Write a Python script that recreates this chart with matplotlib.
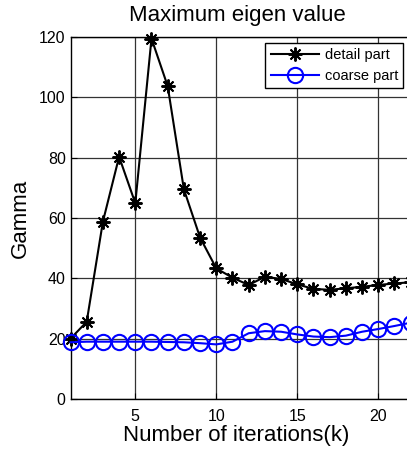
import matplotlib
matplotlib.use("Agg")
import matplotlib.pyplot as plt

plt.rcParams['font.family'] = ['Liberation Sans', 'DejaVu Sans']

iterations = list(range(1, 23))
detail = [20.0, 25.6, 58.8, 80.3, 64.9, 119.5, 103.7, 69.5, 53.5, 43.3, 40.2,
          37.8, 40.5, 39.8, 38.0, 36.5, 36.2, 36.7, 37.2, 37.8, 38.3, 38.7]
coarse = [18.8, 19.0, 19.0, 19.0, 19.0, 19.0, 18.9, 18.8, 18.5, 18.1, 19.0,
          21.8, 22.5, 22.3, 21.4, 20.7, 20.5, 21.0, 22.3, 23.2, 24.2, 25.3]
yticks = [0, 20, 40, 60, 80, 100, 120]
xticks = [5, 10, 15, 20]

fig = plt.figure(figsize=(4.07, 4.5), dpi=100)
ax = fig.add_axes([70.5 / 407, 1 - 399 / 450, 24 * 16.2 / 407, 362 / 450])

ax.plot(iterations, detail, color='black', lw=1.5, marker=(8, 2, 0),
        markersize=10, markeredgewidth=1.4, label='detail part', clip_on=False, zorder=3)
ax.plot(iterations, coarse, color='blue', lw=1.5, marker='o', markerfacecolor='none',
        markersize=11, markeredgewidth=1.5, label='coarse part', clip_on=False, zorder=3)

ax.set_xlim(1, 25)
ax.set_ylim(0, 120)
ax.set_xticks(xticks)
ax.set_yticks(yticks)
ax.tick_params(direction='in', labelsize=11.5, length=4, width=0.8)
ax.tick_params(axis='x', pad=7)
ax.grid(True, color='0.2', lw=0.9)
ax.set_axisbelow(True)
for s in ax.spines.values():
    s.set_linewidth(1.0)

fig.text(237 / 407, 1 - 16 / 450, 'Maximum eigen value', fontsize=16,
         ha='center', va='center')
fig.text(236.5 / 407, 1 - 436 / 450, 'Number of iterations(k)', fontsize=16,
         ha='center', va='center')
ax.set_ylabel('Gamma', fontsize=16, labelpad=6)

leg = ax.legend(loc='upper right', bbox_to_anchor=(403 / 407, 1 - 43 / 450),
                bbox_transform=fig.transFigure, fontsize=10.5, frameon=True,
                fancybox=False, edgecolor='black', framealpha=1,
                borderpad=0.35, handlelength=3.3, labelspacing=0.45, handletextpad=0.4,
                borderaxespad=0)
leg.get_frame().set_linewidth(1.0)

fig.savefig('out.png', dpi=100)
